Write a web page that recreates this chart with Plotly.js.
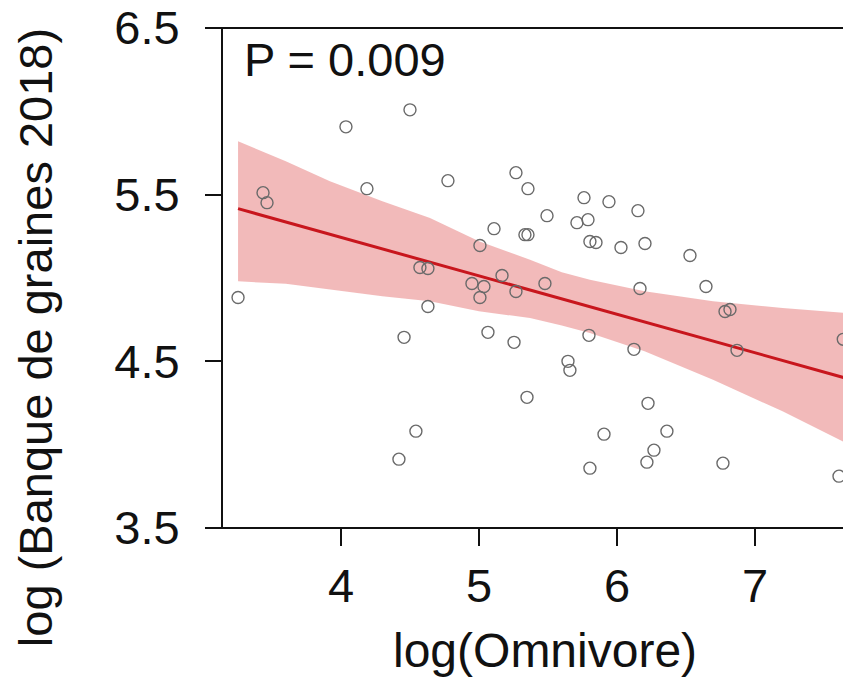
<!DOCTYPE html>
<html>
<head>
<meta charset="utf-8">
<script src="https://cdn.plot.ly/plotly-3.0.1.min.js"></script>
<style>html,body{margin:0;padding:0;background:#fff;overflow:hidden;}</style>
</head>
<body>
<div id="chart" style="width:843px;height:678px;"></div>
<script>
// Observed points: log(Omnivore) vs log(Banque de graines 2018)
const omnivore = [3.254, 3.435, 3.464, 4.036, 4.188, 4.500, 4.775, 4.572, 4.630, 4.630,
  4.457, 4.543, 4.420, 4.949, 5.007, 5.007, 5.036, 5.065, 5.109, 5.167,
  5.268, 5.355, 5.333, 5.355, 5.268, 5.254, 5.348, 5.478, 5.493, 5.761,
  5.710, 5.790, 5.804, 5.848, 5.942, 5.797, 5.645, 5.659, 5.906, 5.804,
  6.029, 6.152, 6.203, 6.167, 6.123, 6.225, 6.362, 6.268, 6.217, 6.529,
  6.645, 6.783, 6.819, 6.870, 6.768, 7.640, 7.609];
const banque = [4.883, 5.512, 5.452, 5.907, 5.536, 6.009, 5.584, 5.063, 5.057, 4.829,
  4.644, 4.081, 3.913, 4.967, 5.195, 4.883, 4.949, 4.674, 5.296, 5.015,
  5.632, 5.536, 5.260, 5.260, 4.919, 4.614, 4.284, 4.967, 5.374, 5.482,
  5.332, 5.350, 5.219, 5.213, 5.458, 4.656, 4.500, 4.446, 4.063, 3.859,
  5.183, 5.404, 5.207, 4.937, 4.572, 4.248, 4.081, 3.967, 3.895, 5.135,
  4.949, 4.799, 4.811, 4.566, 3.889, 4.632, 3.811];

// Fitted regression line (end points)
const fitX = [3.254, 7.66];
const fitY = [5.416, 4.399];

// 95% confidence band
const bandX = [3.254, 3.6, 3.92, 4.3, 4.645, 5.0, 5.37, 5.6, 5.804, 6.2, 6.696, 7.2, 7.66];
const bandUpper = [5.82, 5.70, 5.58, 5.46, 5.36, 5.22, 5.11, 5.035, 4.99, 4.92, 4.86, 4.82, 4.79];
const bandLower = [4.98, 4.965, 4.93, 4.89, 4.86, 4.80, 4.76, 4.715, 4.67, 4.56, 4.39, 4.20, 4.01];

const pLabel = "P = 0.009";
const xTitle = "log(Omnivore)";
const yTitle = "log (Banque de graines 2018)";
const xTicks = [4, 5, 6, 7];
const yTicks = [3.5, 4.5, 5.5, 6.5];

const FONT = "Liberation Sans, Arial, Helvetica, sans-serif";

const traces = [
  {
    x: bandX.concat(bandX.slice().reverse()),
    y: bandUpper.concat(bandLower.slice().reverse()),
    type: "scatter", mode: "lines", fill: "toself",
    fillcolor: "rgba(233,140,140,0.6)", line: {width: 0},
    hoverinfo: "skip", showlegend: false
  },
  {
    x: fitX, y: fitY, type: "scatter", mode: "lines",
    line: {color: "#C8161D", width: 3}, showlegend: false
  },
  {
    x: omnivore, y: banque, type: "scatter", mode: "markers",
    marker: {symbol: "circle-open", size: 12, color: "#6a6a6a", line: {width: 1.4, color: "#6a6a6a"}},
    showlegend: false
  }
];

const layout = {
  width: 843, height: 678,
  margin: {l: 223, r: 0, t: 28, b: 150, pad: 0},
  paper_bgcolor: "#ffffff", plot_bgcolor: "#ffffff",
  font: {family: FONT, size: 47, color: "#111"},
  showlegend: false,
  xaxis: {
    range: [3.145, 7.638], tickvals: xTicks, ticktext: xTicks.map(String),
    ticks: "outside", ticklen: 17, tickwidth: 2, tickcolor: "#111",
    showline: false, showgrid: false, zeroline: false,
    tickfont: {family: FONT, size: 47, color: "#111"},
    ticklabelstandoff: 0
  },
  yaxis: {
    range: [3.5, 6.5], tickvals: yTicks, ticktext: yTicks.map(v => v.toFixed(1)),
    ticks: "outside", ticklen: 16, tickwidth: 2, tickcolor: "#111",
    showline: true, linewidth: 2, linecolor: "#111",
    showgrid: false, zeroline: false,
    tickfont: {family: FONT, size: 47, color: "#111"},
    ticklabelstandoff: 16
  },
  shapes: [
    {type: "line", xref: "paper", yref: "paper", x0: -0.026, x1: 1.0, y0: 0, y1: 0, line: {color: "#111", width: 2}},
    {type: "line", xref: "paper", yref: "paper", x0: -0.026, x1: 1.0, y0: 1, y1: 1, line: {color: "#111", width: 2}}
  ],
  annotations: [
    {text: pLabel, xref: "paper", yref: "paper", x: 0.03, y: 0.936, xanchor: "left", yanchor: "middle",
     showarrow: false, font: {family: FONT, size: 47, color: "#111"}},
    {text: xTitle, xref: "paper", yref: "paper", x: 0.519, y: -0.245, xanchor: "center", yanchor: "middle",
     showarrow: false, font: {family: FONT, size: 48, color: "#111"}},
    {text: yTitle, xref: "paper", yref: "paper", x: -0.303, y: 0.38, xanchor: "center", yanchor: "middle",
     textangle: -90, showarrow: false, font: {family: FONT, size: 47, color: "#111"}}
  ]
};

Plotly.newPlot("chart", traces, layout, {displayModeBar: false, staticPlot: true});
</script>
</body>
</html>
